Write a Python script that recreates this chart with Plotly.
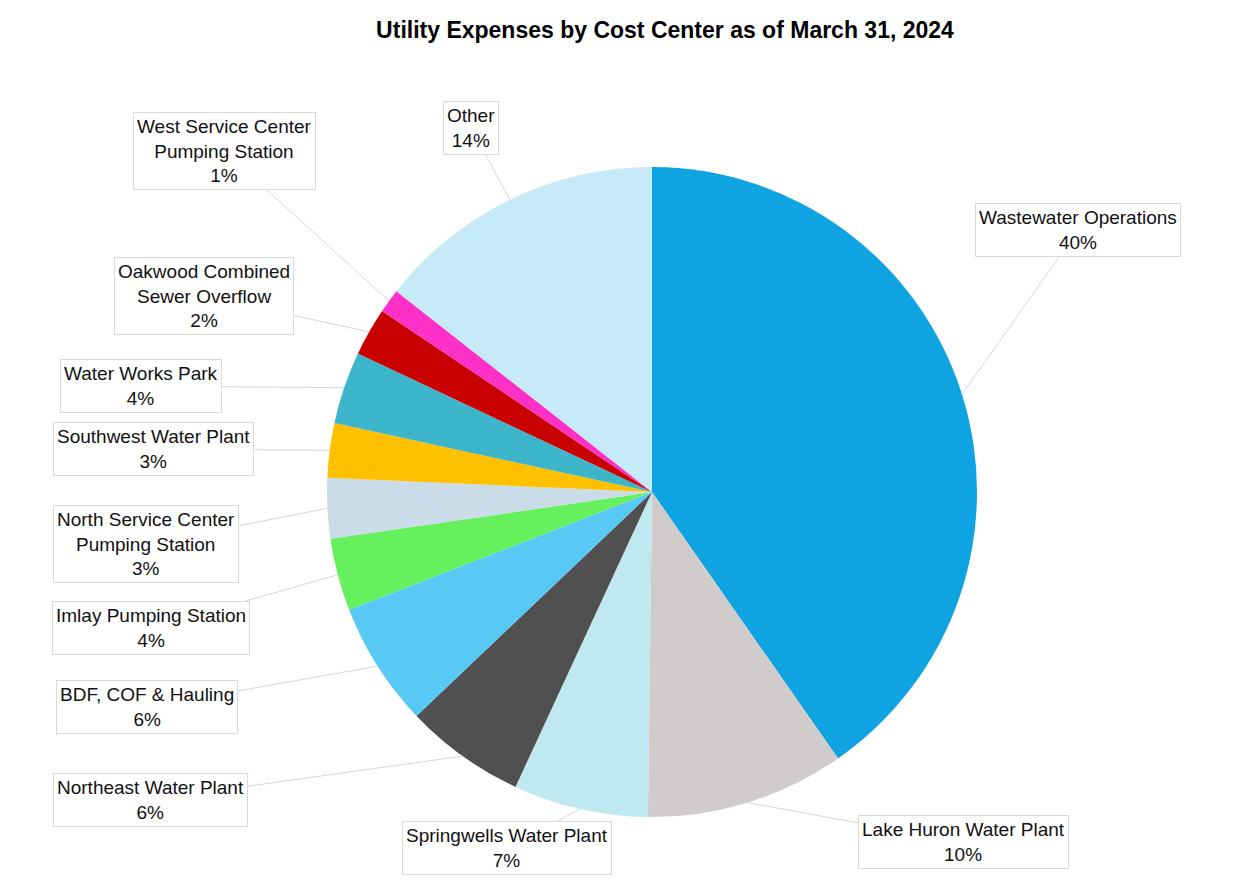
import math
import plotly.graph_objects as go

# ---- data ----
labels = [
    "Wastewater Operations",
    "Lake Huron Water Plant",
    "Springwells Water Plant",
    "Northeast Water Plant",
    "BDF, COF & Hauling",
    "Imlay Pumping Station",
    "North Service Center\nPumping Station",
    "Southwest Water Plant",
    "Water Works Park",
    "Oakwood Combined\nSewer Overflow",
    "West Service Center\nPumping Station",
    "Other",
]
values = [40.3, 9.9, 6.7, 6.0, 6.2, 3.6, 3.0, 2.7, 3.6, 2.4, 1.2, 14.4]
colors = [
    "#0FA3E2", "#D1CCCC", "#C0E8F0", "#505050", "#58C8F5", "#66F05E",
    "#C9DCE8", "#FFC000", "#3DB5CB", "#C80000", "#FF30C8", "#C7EAF8",
]

# ---- layout (pixel geometry, page coordinates) ----
OFF = 8  # page body margin
W, H = 1240, 880
cx, cy, R = 652 - OFF, 492 - OFF, 325
box_centers = [
    (1078, 230), (963, 842), (507, 848), (150, 800), (147, 707), (151, 628),
    (146, 544), (153, 449), (141, 386), (204, 296), (224, 151), (471, 128),
]

fig = go.Figure()
fig.add_trace(go.Pie(
    labels=[l.replace("\n", " ") for l in labels],
    values=values,
    sort=False,
    direction="clockwise",
    rotation=0,
    marker=dict(colors=colors, line=dict(width=0)),
    textinfo="none",
    hoverinfo="label+percent",
    domain=dict(x=[(cx - R) / W, (cx + R) / W], y=[1 - (cy + R) / H, 1 - (cy - R) / H]),
    showlegend=False,
))

total = sum(values)
annotations = []
cum = 0.0
for lab, v, (bx, by) in zip(labels, values, box_centers):
    bx -= OFF
    by -= OFF
    mid = (cum + v / 2) / total * 2 * math.pi
    cum += v
    tx = cx + R * math.sin(mid)
    ty = cy - R * math.cos(mid)
    pct = round(v / total * 100)
    annotations.append(dict(
        x=tx / W, y=1 - ty / H, xref="paper", yref="paper",
        text=lab.replace("\n", "<br>") + f"<br>{pct}%",
        showarrow=True, arrowhead=0, arrowwidth=1, arrowcolor="#D6D6D6",
        standoff=0, startstandoff=0,
        ax=bx - tx, ay=by - ty, axref="pixel", ayref="pixel",
        bgcolor="white", bordercolor="#D9D9D9", borderwidth=1, borderpad=3,
        font=dict(family="Liberation Sans, Arial, sans-serif", size=19, color="#111111"),
        align="center",
    ))

fig.update_layout(
    width=W, height=H,
    margin=dict(l=0, r=0, t=0, b=0),
    paper_bgcolor="white", plot_bgcolor="white",
    title=dict(
        text="<b>Utility Expenses by Cost Center as of March 31, 2024</b>",
        x=(665 - OFF) / W, xanchor="center", y=1 - (30 - OFF) / H, yanchor="middle", yref="container",
        font=dict(family="Liberation Sans, Arial, sans-serif", size=23, color="#000000"),
    ),
    annotations=annotations,
)

fig.write_html("out.html")
